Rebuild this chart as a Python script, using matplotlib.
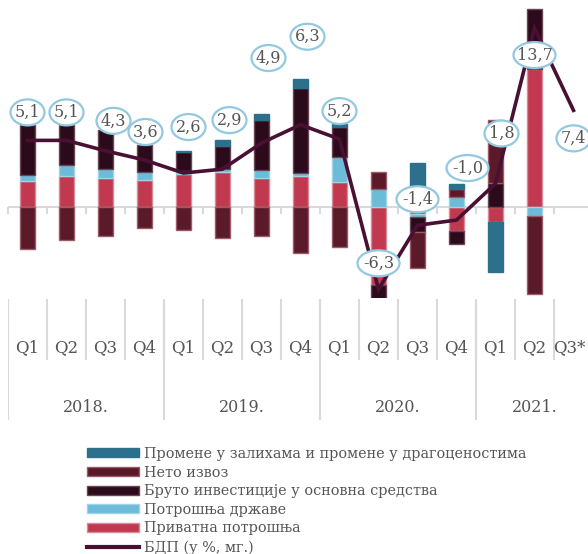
import numpy as np
import matplotlib
matplotlib.use('Agg')
import matplotlib.pyplot as plt
from matplotlib.patches import Ellipse, Patch
from matplotlib.lines import Line2D
from matplotlib.transforms import Affine2D, ScaledTranslation

plt.rcParams['font.family'] = ['DejaVu Serif']

# --- data (contributions to GDP growth, p.p.) ---
quarters = ['Q1', 'Q2', 'Q3', 'Q4', 'Q1', 'Q2', 'Q3', 'Q4',
            'Q1', 'Q2', 'Q3', 'Q4', 'Q1', 'Q2', 'Q3*']
years = ['2018.', '2019.', '2020.', '2021.']
year_len = [4, 4, 4, 3]

private = [2.0, 2.37, 2.2, 2.1, 2.5, 2.68, 2.2, 2.37, 1.89, -6.0, -0.55, -1.85, -1.15, 10.6, np.nan]
government = [0.46, 0.84, 0.71, 0.61, 0.23, 0.2, 0.61, 0.23, 1.94, 1.38, -0.2, 0.75, 0.0, -0.71, np.nan]
investment = [3.8, 3.04, 2.96, 2.07, 1.45, 1.79, 3.83, 6.5, 2.3, -2.5, -1.15, -1.0, 1.8, 4.55, np.nan]
net_exports = [-3.2, -2.5, -2.25, -1.6, -1.74, -2.35, -2.22, -3.5, -3.06, 1.3, -2.8, 0.6, 4.85, -5.97, np.nan]
inventories = [0.0, 0.0, 0.0, 0.0, 0.1, 0.43, 0.51, 0.72, 0.2, 0.0, 3.4, 0.4, -3.83, 0.0, np.nan]
gdp = [5.1, 5.1, 4.3, 3.6, 2.6, 2.9, 4.9, 6.3, 5.2, -6.3, -1.4, -1.0, 1.8, 13.7, 7.4]

names = ['Приватна потрошња', 'Потрошња државе', 'Бруто инвестиције у основна средства',
         'Нето извоз', 'Промене у залихама и промене у драгоценостима']
gdp_name = 'БДП (у %, мг.)'

# --- styles ---
face = ['#C0394F', '#6BBBD9', '#2B0B1B', '#5B1A29', '#2D708B']
edge = ['#D98A9A', '#9ED3E8', '#6B4455', '#9A5A68', '#2D708B']
line_col = '#4A1033'
grey_txt = '#555555'
grid_col = '#D9D9D9'

# label offsets from the GDP point, pixels
label_dx = [0, 0, 8, 1, 5, 7, 7, 7, 0, 0, 0, 11, 6, 0, 0]
label_dy = [28, 28, 30, 28, 46, 49, 85, 88, 28, 26, 26, 52, 50, -27, -28]

W, H = 588, 554
fig = plt.figure(figsize=(W / 100, H / 100), dpi=100)

px_per_unit = 13.06
ax = fig.add_axes([8 / W, 1 - 298 / H, 585 / W, 298 / H])
ax.axis('off')

x = np.arange(len(quarters))
ax.axhline(0, color=grid_col, lw=1.5, zorder=1)
ax.plot(np.arange(len(quarters) + 1) - 0.5, np.zeros(len(quarters) + 1), ls='none',
        marker=3, ms=5, mew=1.5, color=grid_col, zorder=1, clip_on=False)

pos_base = np.zeros(len(x))
neg_base = np.zeros(len(x))
for vals, fc, ec in zip([private, government, investment, net_exports, inventories], face, edge):
    v = np.array(vals, dtype=float)
    v0 = np.nan_to_num(v)
    bottom = np.where(v0 > 0, pos_base, neg_base)
    keep = v0 != 0
    ax.bar(x[keep], v0[keep], bottom=bottom[keep], width=0.41, color=fc, edgecolor=ec,
           linewidth=1.0, zorder=2)
    pos_base += np.where(v0 > 0, v0, 0)
    neg_base += np.where(v0 < 0, v0, 0)

ax.plot(x, gdp, color=line_col, lw=2.6, zorder=4, solid_joinstyle='miter')

for i, val in enumerate(gdp):
    lab = f'{val:.1f}'.replace('.', ',')
    w = 10 + 8 * len(lab)
    tr = Affine2D().scale(w, 26).translate(label_dx[i], label_dy[i]) + \
        ScaledTranslation(i, val, ax.transData)
    ax.add_artist(Ellipse((0, 0), 1, 1, transform=tr, facecolor='white',
                          edgecolor='#93C8E0', lw=1.6, zorder=5, clip_on=False))
    ax.annotate(lab, xy=(i, val), xytext=(label_dx[i], label_dy[i]),
                textcoords='offset pixels', ha='center', va='center',
                fontsize=11.5, color=grey_txt, zorder=6, annotation_clip=False)

ax.set_xlim(-0.5, len(quarters) - 0.5)
ax.set_ylim(-91 / px_per_unit, 207 / px_per_unit)

# category table under the chart (y in pixels)
tab = fig.add_axes([8 / W, 1 - 436 / H, 585 / W, 137 / H])
tab.axis('off')
tab.set_xlim(-0.5, len(quarters) - 0.5)
tab.set_ylim(436, 299)
bounds = np.arange(len(quarters) + 1) - 0.5
tab.vlines(bounds, 299, 360, color=grid_col, lw=1.5)
starts = np.cumsum([0] + year_len[:-1])
tab.vlines(bounds[starts], 299, 420, color=grid_col, lw=1.5)
for i, q in enumerate(quarters):
    # the last label sits at the right edge, nudge it in so it stays whole
    shift = -4 if i == len(quarters) - 1 else 0
    tab.annotate(q, xy=(i, 348), xytext=(shift, 0), textcoords='offset pixels',
                 ha='center', va='center', fontsize=12, color=grey_txt)
for s, n, yr in zip(starts, year_len, years):
    tab.text(s + (n - 1) / 2 if n == 4 else s + 1, 408, yr, ha='center', va='center',
             fontsize=11.5, color=grey_txt)

# legend
handles = [Patch(facecolor=face[k], edgecolor=edge[k], lw=1.0) for k in [4, 3, 2, 1, 0]]
handles.append(Line2D([], [], color=line_col, lw=3))
labels = [names[k] for k in [4, 3, 2, 1, 0]] + [gdp_name]
fig.legend(handles, labels, loc='upper left', bbox_to_anchor=(87 / W, 1 - 447 / H),
           frameon=False, fontsize=10.4, handlelength=3.6, handleheight=0.6,
           handletextpad=0.36, labelspacing=0.32, borderpad=0, borderaxespad=0,
           labelcolor=grey_txt)

fig.savefig('out.png', dpi=100)
